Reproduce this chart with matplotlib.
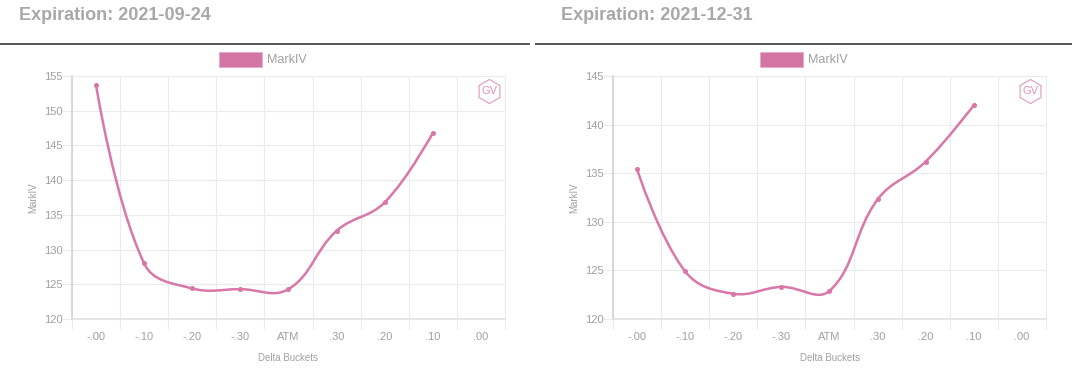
import numpy as np
import matplotlib
matplotlib.use("Agg")
import matplotlib.pyplot as plt
from matplotlib.path import Path
from matplotlib.patches import PathPatch, Rectangle, RegularPolygon
from matplotlib.lines import Line2D

plt.rcParams['font.family'] = ['Liberation Sans', 'DejaVu Sans']

buckets = ['-.00', '-.10', '-.20', '-.30', 'ATM', '.30', '.20', '.10', '.00']
iv_sep = [153.7, 128.0, 124.4, 124.3, 124.3, 132.7, 136.8, 146.8]
iv_dec = [135.4, 124.9, 122.6, 123.3, 122.9, 132.3, 136.2, 142.0]
titles = ['Expiration: 2021-09-24', 'Expiration: 2021-12-31']
yticks_sep = [120, 125, 130, 135, 140, 145, 150, 155]
yticks_dec = [120, 125, 130, 135, 140, 145]

W, H = 1080, 375
PINK = '#d877a8'
GRID = '#ebebeb'
TXT = '#a0a0a0'

fig = plt.figure(figsize=(W / 100, H / 100), dpi=100)


def spline_path(ax, vals, tension=0.4):
    # same bezier the web chart uses, worked out in pixels
    pts = ax.transData.transform(np.column_stack([np.arange(len(vals)), vals]))
    verts = [pts[0]]
    codes = [Path.MOVETO]
    prev_out = pts[0]
    for i in range(1, len(pts)):
        cur = pts[i]
        if i < len(pts) - 1:
            before, after = pts[i - 1], pts[i + 1]
            d01 = np.hypot(*(cur - before))
            d12 = np.hypot(*(after - cur))
            s = d01 / (d01 + d12)
            c_in = cur - tension * s * (after - before)
            c_out = cur + tension * (1 - s) * (after - before)
        else:
            c_in = cur
            c_out = cur
        verts += [prev_out, c_in, cur]
        codes += [Path.CURVE4, Path.CURVE4, Path.CURVE4]
        prev_out = c_out
    return Path(ax.transData.inverted().transform(np.array(verts)), codes)


def draw_panel(x0, x1, vals, yticks, title, title_x, rule):
    top, bottom = 76, 319
    ax = fig.add_axes([x0 / W, 1 - bottom / H, (x1 - x0) / W, (bottom - top) / H])
    ax.set_xlim(-0.5, len(buckets) - 0.5)
    ax.set_ylim(yticks[0], yticks[-1])
    ax.set_xticks(np.arange(len(buckets)))
    ax.set_xticklabels(buckets)
    ax.set_xticks(np.arange(len(buckets) + 1) - 0.5, minor=True)
    ax.set_yticks(yticks)
    ax.grid(True, which='minor', axis='x', color=GRID, lw=0.8)
    ax.grid(True, which='major', axis='y', color=GRID, lw=0.8)
    ax.tick_params(axis='x', which='major', length=0, labelsize=8, labelcolor=TXT, pad=9)
    ax.tick_params(axis='x', which='minor', length=7, width=0.8, color=GRID)
    ax.tick_params(axis='y', length=7, width=0.8, color=GRID, labelsize=8, labelcolor=TXT, pad=0)
    for side in ['top', 'right']:
        ax.spines[side].set_color(GRID)
        ax.spines[side].set_linewidth(0.7)
    ax.spines['bottom'].set_color('#e0e0e0')
    ax.spines['bottom'].set_linewidth(1.1)
    ax.spines['left'].set_color('#d0d0d0')
    ax.spines['left'].set_linewidth(1.1)
    ax.set_axisbelow(True)
    ax.set_xlabel('Delta Buckets', fontsize=7, color=TXT, labelpad=8)
    ax.set_ylabel('MarkIV', fontsize=7, color=TXT, labelpad=4)

    ax.add_patch(PathPatch(spline_path(ax, vals), fc='none', ec=PINK, lw=1.8, capstyle='round'))
    ax.plot(np.arange(len(vals)), vals, 'o', color=PINK, ms=2.6, clip_on=False)

    # title and rule above the chart
    fig.text(title_x / W, 1 - 15 / H, title, fontsize=13, fontweight='bold',
             color='#a8a8a8', va='center', ha='left')
    fig.add_artist(Line2D([rule[0] / W, rule[1] / W], [1 - 44 / H, 1 - 44 / H],
                          color='#555555', lw=1.4, solid_capstyle='butt'))

    # legend swatch
    mid = (x0 + x1) / 2
    fig.add_artist(Rectangle(((mid - 69.5) / W, 1 - 67 / H), 42.5 / W, 15 / H,
                             fc='#d375a3', ec='#e6a9c8', lw=0.6, transform=fig.transFigure))
    fig.text((mid - 21.5) / W, 1 - 60 / H, 'MarkIV', fontsize=9, color=TXT, va='center', ha='left')

    # GV badge
    gx, gy = x1 - 15.5, 91.5
    fig.add_artist(RegularPolygon((gx, H - gy), 6, radius=12, fc='none', ec='#e3a3c4', lw=0.9,
                                  transform=None))
    fig.text(gx / W, 1 - gy / H, 'GV', fontsize=8, color='#e090b8', va='center', ha='center')


draw_panel(72, 505, iv_sep, yticks_sep, titles[0], 19, (0, 530))
draw_panel(613, 1046, iv_dec, yticks_dec, titles[1], 561, (535, 1072))

fig.savefig('out.png', dpi=100)
